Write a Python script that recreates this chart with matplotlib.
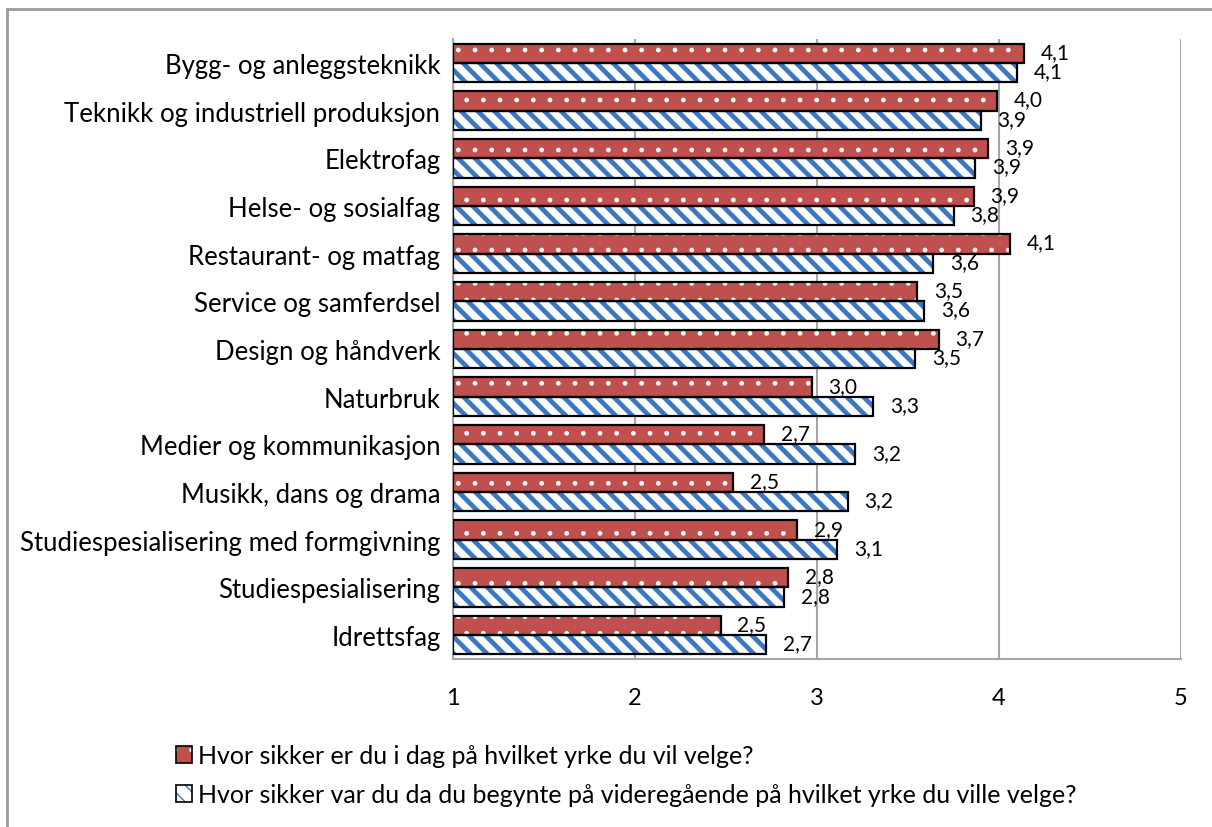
import matplotlib
matplotlib.use("Agg")
from matplotlib import pyplot as plt
from matplotlib.patches import Patch, Rectangle
from matplotlib.legend_handler import HandlerTuple
import numpy as np

categories = [
    "Bygg- og anleggsteknikk",
    "Teknikk og industriell produksjon",
    "Elektrofag",
    "Helse- og sosialfag",
    "Restaurant- og matfag",
    "Service og samferdsel",
    "Design og håndverk",
    "Naturbruk",
    "Medier og kommunikasjon",
    "Musikk, dans og drama",
    "Studiespesialisering med formgivning",
    "Studiespesialisering",
    "Idrettsfag",
]
# Hvor sikker er du i dag
today = [4.14, 3.99, 3.94, 3.86, 4.06, 3.55, 3.67, 2.97, 2.71, 2.54, 2.89, 2.84, 2.47]
# Hvor sikker var du da du begynte
start = [4.10, 3.90, 3.87, 3.75, 3.64, 3.59, 3.54, 3.31, 3.21, 3.17, 3.11, 2.82, 2.72]

series_labels = [
    "Hvor sikker er du i dag på hvilket yrke du vil velge?",
    "Hvor sikker var du da du begynte på videregående på hvilket yrke du ville velge?",
]

plt.rcParams["font.family"] = ["Lato", "DejaVu Sans"]

red = "#c0504d"
blue = "#3a78c3"
grid_gray = "#a6a6a6"


def hatched(patches, lw):
    # hatch line width per bar
    for p in patches:
        if hasattr(p, "set_hatch_linewidth"):
            p.set_hatch_linewidth(lw)


fig = plt.figure(figsize=(12.12, 8.28), dpi=100)
ax = fig.add_axes([453 / 1212, 1 - 660 / 828, (1181 - 453) / 1212, (660 - 40) / 828])

y = np.arange(len(categories))
h = 0.405
base = 1

# red bars: white dots on red
with plt.rc_context({"hatch.linewidth": 1.0}):
    bars = ax.barh(y - h / 2, np.array(today) - base, left=base, height=h, color=red,
                   edgecolor="white", hatch=".", linewidth=0, zorder=2)
    hatched(bars, 1.0)
ax.barh(y - h / 2, np.array(today) - base, left=base, height=h, fill=False,
        edgecolor="black", linewidth=1.6, zorder=3)
# blue bars: blue stripes on white
with plt.rc_context({"hatch.linewidth": 3.4}):
    bars = ax.barh(y + h / 2, np.array(start) - base, left=base, height=h, color="white",
                   edgecolor=blue, hatch="\\\\", linewidth=0, zorder=2)
    hatched(bars, 3.4)
ax.barh(y + h / 2, np.array(start) - base, left=base, height=h, fill=False,
        edgecolor="black", linewidth=1.6, zorder=3)

for i in range(len(categories)):
    ax.annotate(f"{today[i]:.1f}".replace(".", ","), (today[i], y[i] - h / 2),
                xytext=(12, 1), textcoords="offset points", va="center", ha="left",
                fontsize=15, zorder=4)
    ax.annotate(f"{start[i]:.1f}".replace(".", ","), (start[i], y[i] + h / 2),
                xytext=(12, 1), textcoords="offset points", va="center", ha="left",
                fontsize=15, zorder=4)

ax.set_xlim(1, 5)
ax.set_ylim(len(categories) - 0.5, -0.5)
ax.set_xticks([1, 2, 3, 4, 5])
ax.set_yticks(y)
ax.set_yticklabels(categories, fontsize=18.5)
ax.tick_params(axis="x", length=0, pad=20, labelsize=17)
ax.tick_params(axis="y", length=0, pad=9)
ax.grid(axis="x", color=grid_gray, linewidth=1.5, zorder=0)
ax.set_axisbelow(True)
for s in ["top", "right"]:
    ax.spines[s].set_visible(False)
for s in ["left", "bottom"]:
    ax.spines[s].set_color(grid_gray)
    ax.spines[s].set_linewidth(1.5)

# legend
with plt.rc_context({"hatch.linewidth": 2.0}):
    h1 = (Patch(facecolor=red, edgecolor="white", hatch=".", linewidth=0),
          Patch(fill=False, edgecolor="black", linewidth=1.2))
    h2 = (Patch(facecolor="white", edgecolor=blue, hatch="\\\\", linewidth=0),
          Patch(fill=False, edgecolor="black", linewidth=1.2))
fig.legend([h1, h2], series_labels, handler_map={tuple: HandlerTuple(ndivide=1)},
           loc="upper left", bbox_to_anchor=(163 / 1212, 1 - 733 / 828),
           frameon=False, fontsize=18, handlelength=0.65, handleheight=0.65,
           handletextpad=0.25, labelspacing=0.62, borderpad=0)

# chart frame
fig.add_artist(Rectangle((7 / 1212, -0.1), 1.2, 1.1 - 10 / 828, transform=fig.transFigure,
                         fill=False, edgecolor="#9a9a9a", linewidth=2))

fig.savefig("out.png", dpi=100)
